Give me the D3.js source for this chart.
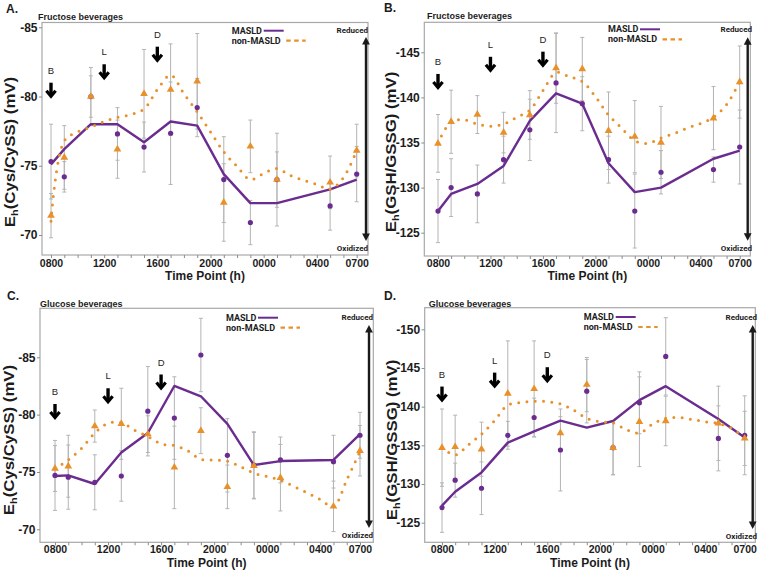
<!DOCTYPE html>
<html>
<head>
<meta charset="utf-8">
<script src="https://cdn.jsdelivr.net/npm/d3@7"></script>
<style>
  body { margin: 0; background: #fff; }
  svg { display: block; font-family: "Liberation Sans", Arial, sans-serif; }
</style>
</head>
<body>
<svg id="chart" width="764" height="573"></svg>
<script>
// Redox (Eh) time courses, MASLD vs non-MASLD, fructose / glucose beverages.
// Hours are counted from 0800 (0) to 0700 next day (23).

const hours = [0, 1, 3, 5, 7, 9, 11, 13, 15, 17, 21, 23];
const smoothHours = [0, 1, 2, 3, 4, 5, 6, 7, 8, 9, 10, 11, 12, 13, 14, 15, 16, 17, 18, 19, 20, 21, 22, 23];
const tickHours = [0, 4, 8, 12, 16, 20, 23];
const tickLabels = ["0800", "1200", "1600", "2000", "0000", "0400", "0700"];
const mealHours = [0, 4, 8];
const mealLabels = ["B", "L", "D"];
const seriesNames = ["MASLD", "non-MASLD"];

const cysTicks = [-85, -80, -75, -70];
const gshTicksB = [-145, -140, -135, -130, -125];
const gshTicksD = [-150, -145, -140, -135, -130, -125];

// --- A: fructose, Eh(Cys/CySS) ---
const aMasld    = [-75.3, -74.2, -80.0, -77.3, -76.35, -77.35, -79.2, -74.0, -70.9, -74.0, -72.1, -74.4];
const aMasldSe  = [2.7, 1.1, 1.5, 1.9, 1.8, 3.7, 2.1, 3.1, 1.6, 2.0, 1.75, 2.0];
const aMasldFit = [-75.1, -76.2, -78.0, -78.0, -76.7, -78.2, -77.9, -74.4, -72.3, -72.3, -73.3, -74.0];
const aNon      = [-71.4, -75.6, -80.0, -76.2, -80.2, -80.5, -81.1, -72.35, -76.4, -74.0, -73.8, -76.1];
const aNonSe    = [1.6, 2.3, 2.1, 2.1, 3.2, 3.3, 3.45, 2.8, 1.9, 3.35, 1.9, 1.9];
const aNonFit   = [-71.0, -76.8, -77.45, -77.8, -78.2, -78.5, -78.7, -79.1, -80.5, -81.55, -80.2, -78.9,
                   -77.45, -76.0, -74.95, -74.0, -74.45, -74.8, -74.3, -73.95, -73.65, -73.3, -74.15, -76.1];
const aMeal     = [-81.0, -82.33, -83.6];

// --- B: fructose, Eh(GSH/GSSG) ---
const bMasld    = [-127.4, -130.0, -129.3, -133.1, -136.4, -141.6, -139.3, -133.1, -127.4, -131.7, -132.0, -134.5];
const bMasldSe  = [3.5, 3.2, 3.2, 2.6, 3.4, 5.5, 3.0, 2.6, 4.1, 2.4, 1.4, 4.1];
const bMasldFit = [-127.4, -129.3, -130.4, -132.4, -137.4, -140.45, -139.3, -132.7, -129.5, -130.0, -133.2, -134.1];
const bNon      = [-134.9, -137.3, -138.1, -136.1, -138.05, -143.25, -143.15, -136.3, -135.65, -135.0, -137.7, -141.7];
const bNonSe    = [3.2, 3.5, 2.1, 2.25, 2.7, 3.9, 3.5, 4.3, 4.0, 4.0, 3.5, 4.0];
const bNonFit   = [-134.9, -137.3, -137.5, -137.05, -136.8, -137.05, -137.8, -138.6, -140.75, -142.75, -142.3, -141.75,
                   -140.1, -138.05, -136.6, -135.2, -134.9, -135.5, -136.0, -136.6, -137.1, -137.8, -139.2, -141.75];
const bMeal     = [-142.6, -144.5, -145.07];

// --- C: glucose, Eh(Cys/CySS) ---
const cMasld    = [-74.7, -74.55, -74.1, -74.65, -80.3, -79.7, -85.2, -76.45, -75.6, -76.05, -75.9, -78.2];
const cMasldSe  = [3.05, 2.8, 2.4, 2.2, 3.9, 3.6, 3.2, 3.2, 2.9, 2.0, 2.3, 2.0];
const cMasldFit = [-74.65, -74.7, -73.95, -76.7, -78.4, -82.5, -81.6, -79.2, -75.6, -75.95, -76.05, -78.3];
const cNon      = [-75.3, -75.5, -79.0, -79.2, -78.3, -75.4, -78.6, -73.7, -75.55, -74.5, -72.0, -76.85];
const cNonSe    = [2.0, 2.7, 1.4, 3.1, 1.6, 3.6, 2.0, 1.9, 2.9, 2.9, 2.2, 2.2];
const cNonFit   = [-75.3, -76.05, -77.05, -78.4, -79.25, -79.3, -78.65, -78.1, -77.45, -77.3, -76.85, -76.1,
                   -76.05, -75.95, -75.45, -74.9, -74.6, -74.3, -73.75, -73.2, -72.6, -72.0, -74.3, -76.8];
const cMeal     = [-80.93, -82.3, -83.5];

// --- D: glucose, Eh(GSH/GSSG) ---
const dMasld    = [-126.95, -130.5, -129.45, -136.3, -138.6, -134.4, -142.0, -134.7, -140.5, -146.5, -135.9, -136.3];
const dMasldSe  = [3.2, 2.2, 3.4, 1.8, 2.5, 5.3, 4.1, 3.5, 4.0, 5.0, 4.2, 5.1];
const dMasldFit = [-127.2, -129.0, -131.5, -135.35, -136.8, -138.2, -137.3, -138.15, -140.85, -142.65, -138.4, -136.0];
const dNon      = [-134.7, -134.8, -134.5, -141.7, -142.3, -136.6, -142.85, -134.7, -138.05, -138.15, -137.85, -135.9];
const dNonSe    = [5.0, 4.1, 3.5, 6.8, 6.2, 2.1, 3.5, 3.5, 5.8, 3.2, 4.8, 3.5];
const dNonFit   = [-134.7, -133.75, -135.05, -136.45, -138.2, -140.2, -140.55, -140.7, -140.65, -140.35, -139.55, -138.5,
                   -138.05, -137.9, -137.05, -136.6, -137.75, -138.5, -138.6, -138.35, -138.05, -137.85, -137.2, -136.05];
const dMeal     = [-142.6, -144.4, -145.1];

// --- Panels (layout kept apart from data) ---
const panels = [
  { letter: "A.", subtitle: "Fructose beverages", yName: "(Cys/CySS) (mV)", yTicks: cysTicks,
    masld: aMasld, masldSe: aMasldSe, masldFit: aMasldFit, non: aNon, nonSe: aNonSe, nonFit: aNonFit, meal: aMeal,
    ox: 0, oy: 0, box: [42, 22.5, 368, 255], xr: [51, 356.7], yRef: [-85, -70], yr: [27.3, 235],
    letterXY: [6, 13], subXY: [38, 20], legend: [231.7, 30.7],
    right: [366, 368, 30, 37, 241, 248], xTickY: 266.5, xTitleY: 280, yTitle: [10, 152] },
  { letter: "B.", subtitle: "Fructose beverages", yName: "(GSH/GSSG) (mV)", yTicks: gshTicksB,
    masld: bMasld, masldSe: bMasldSe, masldFit: bMasldFit, non: bNon, nonSe: bNonSe, nonFit: bNonFit, meal: bMeal,
    ox: 382, oy: 0, box: [42.3, 22.3, 368.3, 256], xr: [56, 357.7], yRef: [-145, -125], yr: [52.3, 232.7],
    letterXY: [2, 12], subXY: [45, 18.5], legend: [226, 29.3],
    right: [365.7, 370, 29, 37.3, 240.7, 248.3], xTickY: 266.5, xTitleY: 280, yTitle: [9, 152] },
  { letter: "C.", subtitle: "Glucose beverages", yName: "(Cys/CySS) (mV)", yTicks: cysTicks,
    masld: cMasld, masldSe: cMasldSe, masldFit: cMasldFit, non: cNon, nonSe: cNonSe, nonFit: cNonFit, meal: cMeal,
    ox: 0, oy: 280, box: [40, 28.3, 373.3, 262.3], xr: [55, 360], yRef: [-85, -70], yr: [77.3, 249.3],
    letterXY: [7, 19.5], subXY: [40, 26.5], legend: [226, 37.7],
    right: [369, 373, 36.7, 45, 248, 255], xTickY: 273.5, xTitleY: 287, yTitle: [9, 160] },
  { letter: "D.", subtitle: "Glucose beverages", yName: "(GSH/GSSG) (mV)", yTicks: gshTicksD,
    masld: dMasld, masldSe: dMasldSe, masldFit: dMasldFit, non: dNon, nonSe: dNonSe, nonFit: dNonFit, meal: dMeal,
    ox: 382, oy: 280, box: [42.7, 27.7, 373.3, 262.3], xr: [60, 362.7], yRef: [-150, -125], yr: [49.3, 242.7],
    letterXY: [2, 20], subXY: [46.7, 26.5], legend: [201.7, 37],
    right: [370.7, 375, 36.7, 45, 249, 256], xTickY: 273.5, xTitleY: 287, yTitle: [10, 160] }
];

const PURPLE = "#6a2c8f";
const ORANGE = "#e8912b";
const BAR = "#b4b4b4";
const INK = "#1c1c1c";
const SMALL_FONT = "Roboto, 'Liberation Sans', sans-serif";

const svg = d3.select("#chart");
panels.forEach(drawPanel);

function drawPanel(p) {
  const g = svg.append("g").attr("transform", `translate(${p.ox},${p.oy})`);
  const [bl, bt, br, bb] = p.box;
  const x = d3.scaleLinear().domain([0, 23]).range(p.xr);
  const y = d3.scaleLinear().domain(p.yRef).range(p.yr);

  // panel letter + subtitle
  g.append("text").attr("x", p.letterXY[0]).attr("y", p.letterXY[1])
    .attr("font-size", 12).attr("font-weight", "bold").attr("fill", INK).text(p.letter);
  g.append("text").attr("x", p.subXY[0]).attr("y", p.subXY[1])
    .attr("font-size", 9).attr("font-weight", "bold").attr("fill", INK).text(p.subtitle);

  // plot frame
  g.append("rect").attr("x", bl).attr("y", bt).attr("width", br - bl).attr("height", bb - bt)
    .attr("fill", "none").attr("stroke", "#a8a8a8").attr("stroke-width", 1.2);

  // axes
  const labelOf = new Map(tickHours.map((h, i) => [h, tickLabels[i]]));
  const xAxis = d3.axisBottom(x).tickValues(smoothHours).tickSize(3)
    .tickPadding(p.xTickY - bb - 3 - 0.71 * 10.5)
    .tickFormat(h => labelOf.get(h) || "");
  const xg = g.append("g").attr("transform", `translate(0,${bb})`).call(xAxis);
  xg.select(".domain").remove();
  xg.selectAll("line").attr("stroke", "#8c8c8c");
  xg.selectAll("text").attr("font-size", 10.5).attr("font-weight", "bold").attr("fill", INK)
    .attr("font-family", null);

  const yAxis = d3.axisLeft(y).tickValues(p.yTicks).tickSize(3).tickPadding(1.5).tickFormat(d => String(d));
  const yg = g.append("g").attr("transform", `translate(${bl},0)`).call(yAxis);
  yg.select(".domain").remove();
  yg.selectAll("line").attr("stroke", "#8c8c8c");
  yg.selectAll("text").attr("font-size", 12).attr("font-weight", "bold").attr("fill", INK)
    .attr("font-family", null);

  // axis titles
  g.append("text").attr("x", (bl + br) / 2).attr("y", p.xTitleY).attr("text-anchor", "middle")
    .attr("font-size", 12).attr("font-weight", "bold").attr("fill", INK).text("Time Point (h)");
  const yt = g.append("text")
    .attr("transform", `translate(${p.yTitle[0] + 5},${p.yTitle[1]}) rotate(-90) scale(1.2,1)`)
    .attr("text-anchor", "middle").attr("font-size", 14).attr("font-weight", "bold").attr("fill", INK);
  yt.append("tspan").text("E");
  yt.append("tspan").attr("font-size", 9).attr("dy", 3).text("h");
  yt.append("tspan").attr("dy", -3).text(p.yName);

  // error bars (both groups)
  const bars = g.append("g").attr("stroke", BAR).attr("stroke-width", 1);
  [[p.masld, p.masldSe], [p.non, p.nonSe]].forEach(([vals, se]) => {
    hours.forEach((h, i) => {
      const cx = x(h), y0 = y(vals[i] - se[i]), y1 = y(vals[i] + se[i]);
      bars.append("line").attr("x1", cx).attr("x2", cx).attr("y1", y0).attr("y2", y1);
      bars.append("line").attr("x1", cx - 2).attr("x2", cx + 2).attr("y1", y0).attr("y2", y0);
      bars.append("line").attr("x1", cx - 2).attr("x2", cx + 2).attr("y1", y1).attr("y2", y1);
    });
  });

  // MASLD fitted line (straight segments)
  const fitLine = d3.line().x((d, i) => x(hours[i])).y(d => y(d));
  g.append("path").attr("d", fitLine(p.masldFit)).attr("fill", "none")
    .attr("stroke", PURPLE).attr("stroke-width", 2.4).attr("stroke-linejoin", "round");

  // non-MASLD smooth, dotted
  const smooth = d3.line().curve(d3.curveCatmullRom.alpha(0.5))
    .x((d, i) => x(smoothHours[i])).y(d => y(d));
  g.append("path").attr("d", smooth(p.nonFit)).attr("fill", "none")
    .attr("stroke", ORANGE).attr("stroke-width", 3).attr("stroke-linecap", "round")
    .attr("stroke-dasharray", "0 8.3");

  // observed means
  g.append("g").selectAll("circle").data(p.masld).join("circle")
    .attr("cx", (d, i) => x(hours[i])).attr("cy", d => y(d)).attr("r", 2.6).attr("fill", PURPLE);
  const tri = d3.symbol(d3.symbolTriangle).size(26);
  g.append("g").selectAll("path").data(p.non).join("path")
    .attr("d", tri).attr("transform", (d, i) => `translate(${x(hours[i])},${y(d)})`).attr("fill", ORANGE);

  // meal arrows
  mealHours.forEach((h, i) => {
    const ax = x(h), top = y(p.meal[i]);
    g.append("text").attr("x", ax).attr("y", top - 9).attr("text-anchor", "middle")
      .attr("font-size", 9.5).attr("fill", "#222").text(mealLabels[i]);
    g.append("line").attr("x1", ax).attr("x2", ax).attr("y1", top).attr("y2", top + 12.5)
      .attr("stroke", "#000").attr("stroke-width", 3.4);
    g.append("path").attr("d", `M${ax - 4.6},${top + 8}L${ax},${top + 13.5}L${ax + 4.6},${top + 8}`)
      .attr("fill", "none").attr("stroke", "#000").attr("stroke-width", 3.2).attr("stroke-linejoin", "miter");
  });

  // legend
  const [lx, ly] = p.legend;
  const leg = g.append("g").attr("font-family", SMALL_FONT).attr("font-size", 9)
    .attr("font-weight", "bold").attr("fill", INK);
  leg.append("text").attr("x", lx).attr("y", ly + 3).text(seriesNames[0]);
  leg.append("text").attr("x", lx).attr("y", ly + 13).text(seriesNames[1]);
  g.append("line").attr("x1", lx + 32).attr("x2", lx + 52).attr("y1", ly).attr("y2", ly)
    .attr("stroke", PURPLE).attr("stroke-width", 2);
  g.append("line").attr("x1", lx + 54.5).attr("x2", lx + 74).attr("y1", ly + 10).attr("y2", ly + 10)
    .attr("stroke", ORANGE).attr("stroke-width", 2.2).attr("stroke-dasharray", "4.5 3.5");

  // reduced / oxidized arrow
  const [rx, rtx, rTop, aTop, aBot, rBot] = p.right;
  const ann = g.append("g").attr("font-family", SMALL_FONT).attr("font-size", 8)
    .attr("font-weight", "bold").attr("fill", INK).attr("text-anchor", "end");
  ann.append("text").attr("x", rtx).attr("y", rTop + 3).text("Reduced");
  ann.append("text").attr("x", rtx).attr("y", rBot + 3).text("Oxidized");
  g.append("line").attr("x1", rx).attr("x2", rx).attr("y1", aTop + 6).attr("y2", aBot - 6)
    .attr("stroke", "#1a1a1a").attr("stroke-width", 2.4);
  g.append("path").attr("d", `M${rx},${aTop}L${rx + 3.9},${aTop + 7.5}L${rx - 3.9},${aTop + 7.5}Z`).attr("fill", "#1a1a1a");
  g.append("path").attr("d", `M${rx},${aBot}L${rx + 3.9},${aBot - 7.5}L${rx - 3.9},${aBot - 7.5}Z`).attr("fill", "#1a1a1a");
}
</script>
</body>
</html>
